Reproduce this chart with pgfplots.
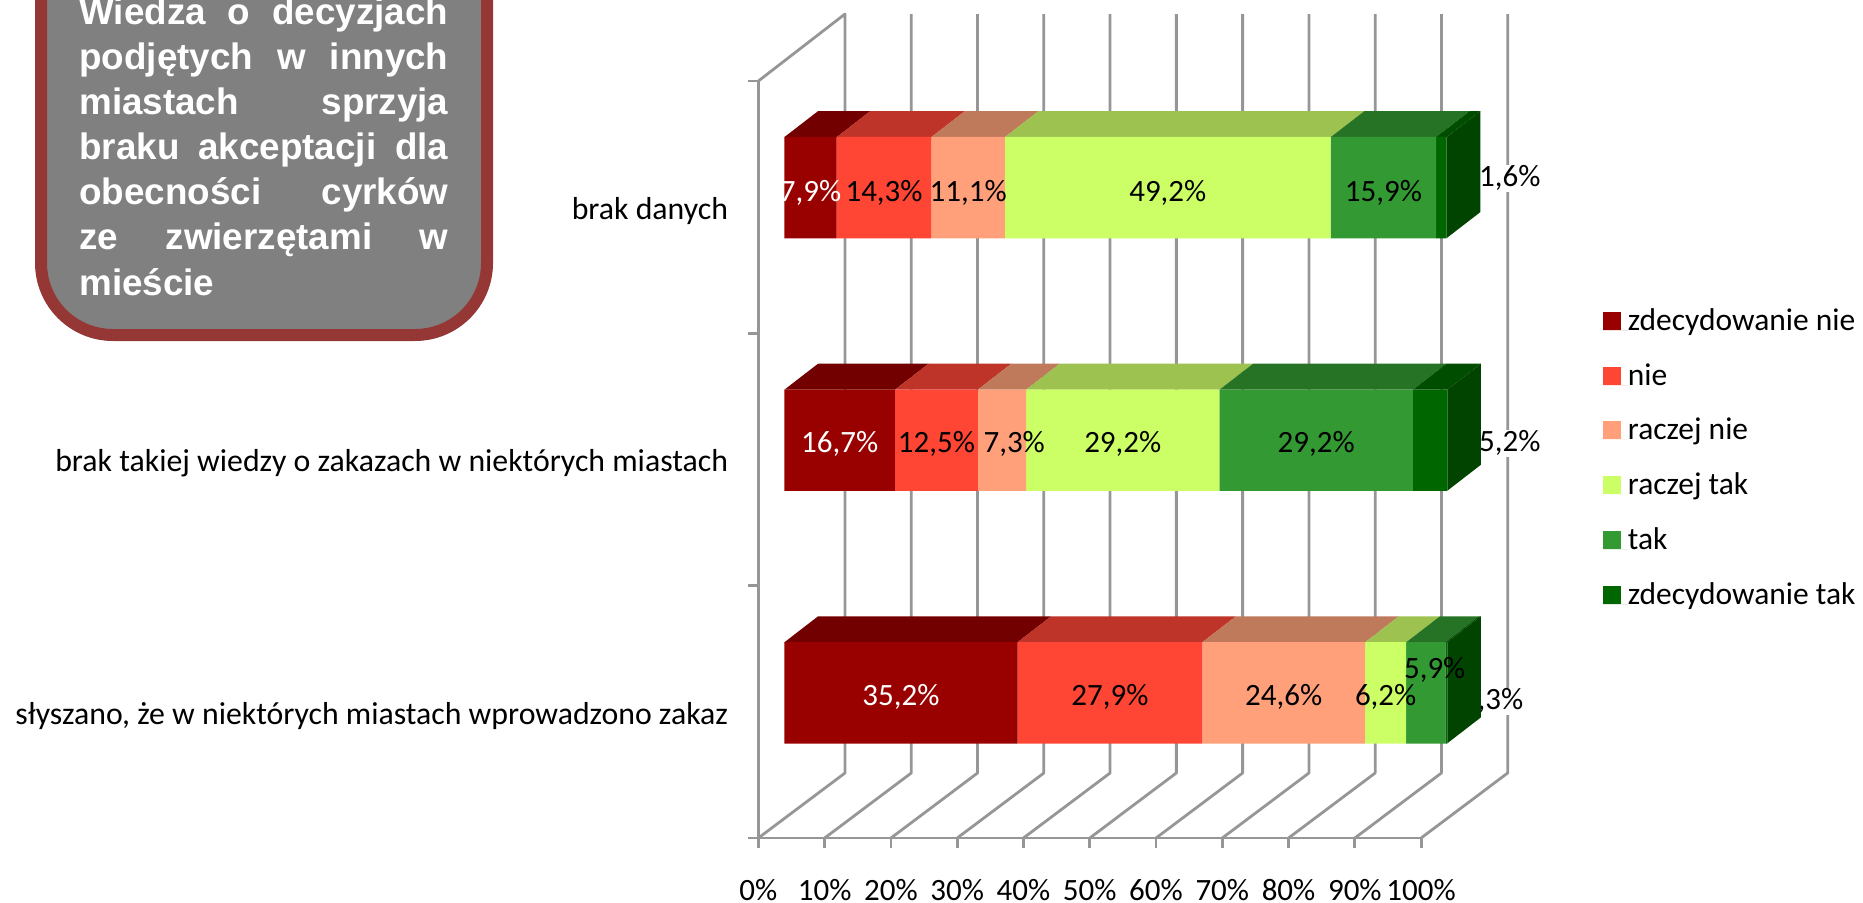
\documentclass[border=0pt]{standalone}
\usepackage{fontspec}
\usepackage{pgfplots}
\pgfplotsset{compat=1.18}
\setmainfont{Carlito}
\newfontfamily\boxfont{Liberation Sans}
\definecolor{gridg}{HTML}{969696}
\definecolor{sA}{HTML}{990000}\definecolor{tA}{HTML}{720000}
\definecolor{sB}{HTML}{FF4635}\definecolor{tB}{HTML}{BF3428}
\definecolor{sC}{HTML}{FFA07A}\definecolor{tC}{HTML}{BF7A5C}
\definecolor{sD}{HTML}{CCFF66}\definecolor{tD}{HTML}{9DC24F}
\definecolor{sE}{HTML}{339933}\definecolor{tE}{HTML}{267326}
\definecolor{sF}{HTML}{006600}\definecolor{tF}{HTML}{004D00}
\definecolor{sideF}{HTML}{004400}
\definecolor{boxedge}{HTML}{953735}
\definecolor{boxfill}{HTML}{808080}
\pgfplotsset{
  leg/.style={legend image code/.code={\path (0pt,0pt) -- (12.5pt,0pt);\fill[##1,draw=none] (0pt,0.25pt) rectangle (9pt,9.25pt);}},
  face/.style={fill=#1,draw=none,forget plot,mark=none,line width=0pt},
  grd/.style={draw=gridg,line width=1.4pt,mark=none,forget plot,line join=round},
}
\begin{document}
\begin{tikzpicture}[font=\fontsize{15.5}{18}\selectfont]
\useasboundingbox (0,0) rectangle (931.5pt,451pt);
% text box
\begin{scope}
\clip (0,0) rectangle (931.5pt,451pt);
\draw[draw=boxedge,fill=boxfill,line width=6pt,rounded corners=36pt] (20.5pt,283.5pt) rectangle (243.5pt,520pt);
\node[anchor=base west,inner sep=0pt,text=white] at (39.5pt,438.5pt) {\begin{minipage}[t]{184.5pt}\boxfont\bfseries\fontsize{18.4}{22.5}\selectfont\setlength{\parindent}{0pt}\emergencystretch=20pt Wiedza o decyzjach\linebreak podjętych w innych\linebreak miastach sprzyja\linebreak braku akceptacji dla\linebreak obecności cyrków\linebreak ze zwierzętami w\linebreak mieście\end{minipage}};
\end{scope}
% frame axis
\begin{axis}[
  at={(379.2pt,32pt)},anchor=south west,scale only axis,
  width=331.35pt,height=378.5pt,
  xmin=0,xmax=100,ymin=0,ymax=3,clip=false,
  axis lines*=left,
  axis line style={-,draw=gridg,line width=1.4pt},
  tick style={draw=gridg,line width=1.4pt},
  tick align=outside,
  major tick length=5pt,
  xtick={0,10,20,30,40,50,60,70,80,90,100},
  xticklabels={0\%,10\%,20\%,30\%,40\%,50\%,60\%,70\%,80\%,90\%,100\%},
  xticklabel style={yshift=-15pt,text height=11pt,text depth=3pt,inner sep=0pt},
  ytick={0,1,2,3},yticklabels={},
  extra y ticks={0.5,1.5,2.5},
  extra y tick labels={słyszano{,} że w niektórych miastach wprowadzono zakaz,brak takiej wiedzy o zakazach w niektórych miastach,brak danych},
  extra y tick style={major tick length=0pt,tick style={draw=none},yticklabel style={anchor=east,xshift=-15pt,yshift=-2pt,inner sep=0pt,font=\fontsize{15.9}{18}\selectfont}},
]
\addplot[grd] coordinates {(0,0)(13.07,0.2576)(13.07,3.2655)(0,3)};
\addplot[grd] coordinates {(10,0)(23.07,0.2576)(23.07,3.2655)};
\addplot[grd] coordinates {(20,0)(33.07,0.2576)(33.07,3.2655)};
\addplot[grd] coordinates {(30,0)(43.07,0.2576)(43.07,3.2655)};
\addplot[grd] coordinates {(40,0)(53.07,0.2576)(53.07,3.2655)};
\addplot[grd] coordinates {(50,0)(63.07,0.2576)(63.07,3.2655)};
\addplot[grd] coordinates {(60,0)(73.07,0.2576)(73.07,3.2655)};
\addplot[grd] coordinates {(70,0)(83.07,0.2576)(83.07,3.2655)};
\addplot[grd] coordinates {(80,0)(93.07,0.2576)(93.07,3.2655)};
\addplot[grd] coordinates {(90,0)(103.07,0.2576)(103.07,3.2655)};
\addplot[grd] coordinates {(100,0)(113.07,0.2576)(113.07,3.2655)};
\node[fill=white,inner sep=0.5pt] at (axis cs:113.4,2.615) {1,6\%};
\node[fill=white,inner sep=0.5pt] at (axis cs:113.4,1.564) {5,2\%};
\node[fill=white,inner sep=0.5pt] at (axis cs:110.8,0.542) {0,3\%};
\end{axis}
% top and side faces of the bars
\begin{axis}[
  at={(392.2pt,41.45pt)},anchor=south west,scale only axis,
  width=331.1pt,height=378.9pt,
  xmin=0,xmax=100,ymin=-0.5,ymax=2.5,clip=false,hide axis,
]
\addplot[face=tA] coordinates {(0,2.2)(7.9,2.2)(12.99,2.303)(5.09,2.303)} --cycle;
\addplot[face=tB] coordinates {(7.9,2.2)(22.2,2.2)(27.29,2.303)(12.99,2.303)} --cycle;
\addplot[face=tC] coordinates {(22.2,2.2)(33.3,2.2)(38.39,2.303)(27.29,2.303)} --cycle;
\addplot[face=tD] coordinates {(33.3,2.2)(82.5,2.2)(87.59,2.303)(38.39,2.303)} --cycle;
\addplot[face=tE] coordinates {(82.5,2.2)(98.4,2.2)(103.49,2.303)(87.59,2.303)} --cycle;
\addplot[face=tF] coordinates {(98.4,2.2)(100,2.2)(105.09,2.303)(103.49,2.303)} --cycle;
\addplot[face=sideF] coordinates {(100,1.8)(100,2.2)(105.09,2.303)(105.09,1.903)} --cycle;
\addplot[face=tA] coordinates {(0,1.2)(16.7,1.2)(21.79,1.303)(5.09,1.303)} --cycle;
\addplot[face=tB] coordinates {(16.7,1.2)(29.2,1.2)(34.29,1.303)(21.79,1.303)} --cycle;
\addplot[face=tC] coordinates {(29.2,1.2)(36.5,1.2)(41.59,1.303)(34.29,1.303)} --cycle;
\addplot[face=tD] coordinates {(36.5,1.2)(65.7,1.2)(70.79,1.303)(41.59,1.303)} --cycle;
\addplot[face=tE] coordinates {(65.7,1.2)(94.9,1.2)(99.99,1.303)(70.79,1.303)} --cycle;
\addplot[face=tF] coordinates {(94.9,1.2)(100.1,1.2)(105.19,1.303)(99.99,1.303)} --cycle;
\addplot[face=sideF] coordinates {(100.1,0.8)(100.1,1.2)(105.19,1.303)(105.19,0.903)} --cycle;
\addplot[face=tA] coordinates {(0,0.2)(35.2,0.2)(40.29,0.303)(5.09,0.303)} --cycle;
\addplot[face=tB] coordinates {(35.2,0.2)(63.1,0.2)(68.19,0.303)(40.29,0.303)} --cycle;
\addplot[face=tC] coordinates {(63.1,0.2)(87.7,0.2)(92.79,0.303)(68.19,0.303)} --cycle;
\addplot[face=tD] coordinates {(87.7,0.2)(93.9,0.2)(98.99,0.303)(92.79,0.303)} --cycle;
\addplot[face=tE] coordinates {(93.9,0.2)(99.8,0.2)(104.89,0.303)(98.99,0.303)} --cycle;
\addplot[face=tF] coordinates {(99.8,0.2)(100.1,0.2)(105.19,0.303)(104.89,0.303)} --cycle;
\addplot[face=sideF] coordinates {(100.1,-0.2)(100.1,0.2)(105.19,0.303)(105.19,-0.097)} --cycle;
\end{axis}
% front faces and legend
\begin{axis}[
  at={(392.2pt,41.45pt)},anchor=south west,scale only axis,
  width=331.1pt,height=378.9pt,
  xmin=0,xmax=100,ymin=-0.5,ymax=2.5,clip=false,hide axis,
  xbar stacked,bar shift=0pt,bar width=50.7pt,
  legend cell align=left,
  legend style={
    at={(axis cs:123.6,1.523)},anchor=north west,draw=none,fill=none,inner sep=0pt,outer sep=0pt,
    row sep=13.45pt,
    nodes={inner sep=0pt,outer sep=0pt,text height=11pt,text depth=3pt,anchor=base west},
    font=\fontsize{15.75}{18}\selectfont,
  },
]
\addplot[fill=sA,draw=none,leg] coordinates {(35.2,0)(16.7,1)(7.9,2)};
\addplot[fill=sB,draw=none,leg] coordinates {(27.9,0)(12.5,1)(14.3,2)};
\addplot[fill=sC,draw=none,leg] coordinates {(24.6,0)(7.3,1)(11.1,2)};
\addplot[fill=sD,draw=none,leg] coordinates {(6.2,0)(29.2,1)(49.2,2)};
\addplot[fill=sE,draw=none,leg] coordinates {(5.9,0)(29.2,1)(15.9,2)};
\addplot[fill=sF,draw=none,leg] coordinates {(0.3,0)(5.2,1)(1.6,2)};
\legend{zdecydowanie nie,nie,raczej nie,raczej tak,tak,zdecydowanie tak}
\end{axis}
% value labels, on top of the bars
\begin{axis}[
  at={(392.2pt,41.45pt)},anchor=south west,scale only axis,
  width=331.1pt,height=378.9pt,
  xmin=0,xmax=100,ymin=-0.5,ymax=2.5,clip=false,hide axis,
]
\node[text=white] at (axis cs:3.95,1.98) {7,9\%};
\node at (axis cs:15.05,1.98) {14,3\%};
\node at (axis cs:27.75,1.98) {11,1\%};
\node at (axis cs:57.9,1.98) {49,2\%};
\node at (axis cs:90.45,1.98) {15,9\%};
\node[text=white] at (axis cs:8.35,0.985) {16,7\%};
\node at (axis cs:22.95,0.985) {12,5\%};
\node at (axis cs:34.7,0.985) {7,3\%};
\node at (axis cs:51.1,0.985) {29,2\%};
\node at (axis cs:80.3,0.985) {29,2\%};
\node[text=white] at (axis cs:17.6,-0.015) {35,2\%};
\node at (axis cs:49.15,-0.015) {27,9\%};
\node at (axis cs:75.4,-0.015) {24,6\%};
\node at (axis cs:90.8,-0.015) {6,2\%};
\node at (axis cs:98.2,0.09) {5,9\%};
\end{axis}
\end{tikzpicture}
\end{document}
